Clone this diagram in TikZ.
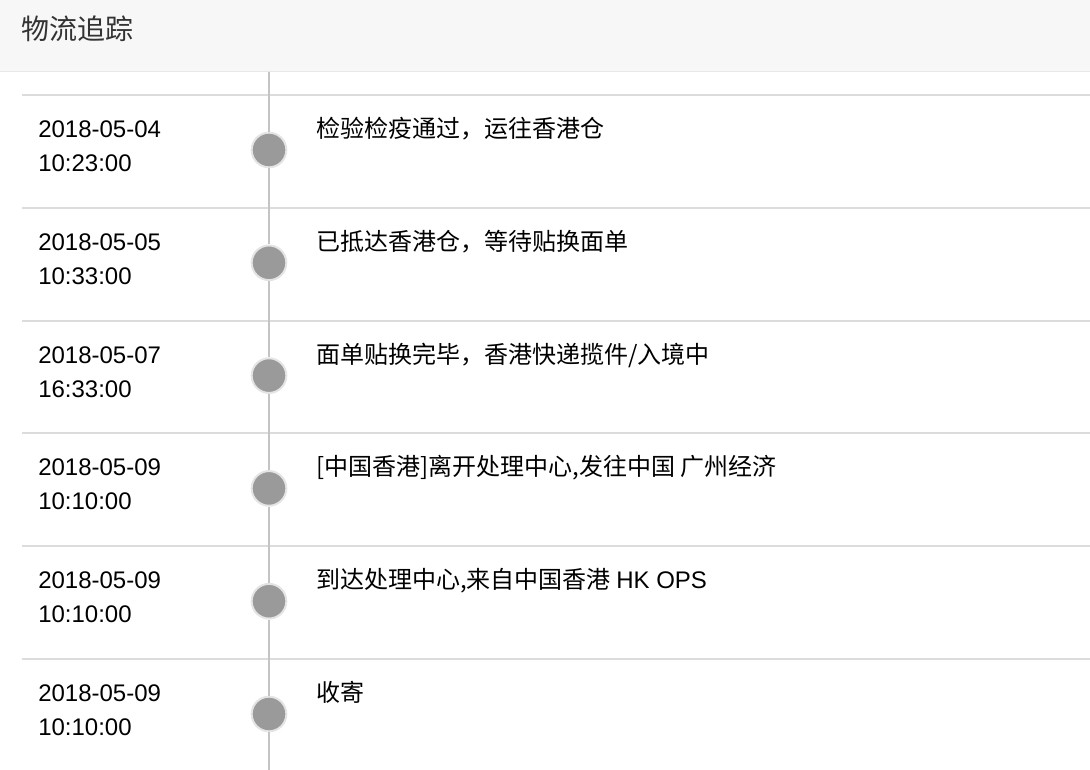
\documentclass[tikz,border=0pt]{standalone}
\usepackage{fontspec}
\setmainfont{Liberation Sans}
\newfontfamily\cjk{Noto Sans CJK SC}
\usetikzlibrary{positioning}

\definecolor{headbg}{HTML}{F7F7F7}
\definecolor{headline}{HTML}{E8E8E8}
\definecolor{rulegrey}{HTML}{DCDCDC}
\definecolor{trackgrey}{HTML}{C4C4C4}
\definecolor{dotgrey}{HTML}{9A9A9A}
\definecolor{halo}{HTML}{E4E4E4}
\definecolor{titlegrey}{HTML}{333333}

\begin{document}
\begin{tikzpicture}[x=0.75pt,y=-0.75pt,
        date/.style={anchor=base west,inner sep=0pt,font=\fontsize{18}{18}\selectfont},
        event/.style={anchor=base west,inner sep=0pt,font=\fontsize{18}{18}\selectfont\cjk},
        dot/.style={circle,fill=dotgrey,draw=halo,line width=1.5pt,minimum size=26pt,inner sep=0pt},
        rule/.style={draw=rulegrey,line width=1.5pt},
        track/.style={draw=trackgrey,line width=2pt}]
        \useasboundingbox (0,0) rectangle (1090,770);
        \fill[headbg] (0,0) rectangle (1090,71);
        \draw[headline,line width=1.2pt] (0,71.5) -- (1090,71.5);
        \node[anchor=base west,inner sep=0pt,text=titlegrey,font=\fontsize{21}{21}\selectfont\cjk] (title) at (21,40) {物流追踪};
        \coordinate (top) at (269,72);
        \coordinate (bottom) at (269,770);

        \foreach \dat/\tim/\evt [count=\i] in {
            2018-05-04/10:23:00/{检验检疫通过，运往香港仓},
            2018-05-05/10:33:00/{已抵达香港仓，等待贴换面单},
            2018-05-07/16:33:00/{面单贴换完毕，香港快递揽件/入境中},
            2018-05-09/10:10:00/{[中国香港]离开处理中心,发往中国 广州经济},
            2018-05-09/10:10:00/{到达处理中心,来自中国香港 {\rmfamily HK OPS}},
            2018-05-09/10:10:00/{收寄}}{
            \pgfmathsetmacro\y{95+112.8*(\i-1)}
            \coordinate (l\i) at (22,\y);
            \coordinate (r\i) at (1090,\y);
            \draw[rule] (l\i) -- (r\i);
            \node[date] (d\i) at (38,\y+42.5) {\dat};
            \node[date] (t\i) at (38,\y+76.5) {\tim};
            \node[dot] (p\i) at (269,\y+55) {};
            \node[event] (e\i) at (316,\y+42.5) {\evt};
        }

        % timeline through the dots
        \draw[track] (top) -- (p1);
        \foreach \i [evaluate=\i as \j using int(\i+1)] in {1,...,5}
            \draw[track] (p\i) -- (p\j);
        \draw[track] (p6) -- (bottom);
\end{tikzpicture}
\end{document}
